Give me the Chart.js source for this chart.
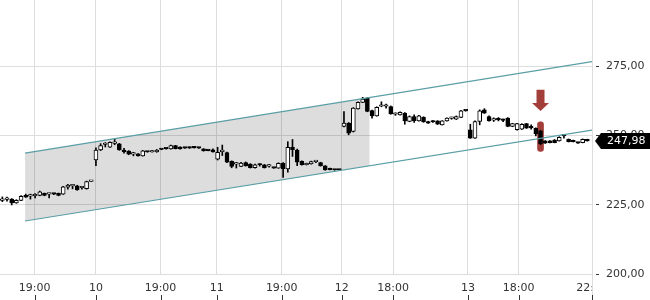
<!DOCTYPE html>
<html>
<head>
<meta charset="utf-8">
<script src="https://cdn.jsdelivr.net/npm/chart.js"></script>
<style>
  html, body { margin: 0; padding: 0; background: #fff; }
  #wrap { width: 650px; height: 300px; position: relative; }
</style>
</head>
<body>
<div id="wrap"><canvas id="chart"></canvas></div>
<script>
// candles, one per slot (index = slot number on the time axis)
var opens  = [226.5,226.9,227.0,225.6,226.5,228.4,228.1,228.2,228.3,229.1,228.8,228.8,229.1,228.8,231.3,231.8,231.8,231.1,230.8,233.4,
              241.1,244.7,246.7,245.7,247.1,246.9,244.7,244.3,243.2,243.3,242.6,244.0,244.0,244.0,244.9,245.1,245.1,246.3,245.8,245.4,
              245.7,245.5,245.4,245.1,244.5,244.8,241.4,244.1,243.8,240.6,239.6,238.8,240.2,239.6,238.3,239.4,239.4,238.9,238.2,238.2,
              239.9,237.9,245.7,244.7,240.6,239.4,239.7,240.5,240.2,239.0,237.6,237.5,237.5,253.2,254.4,251.4,259.5,261.9,263.4,258.9,
              257.0,260.5,260.5,260.4,257.6,257.4,258.0,255.0,256.8,255.2,256.5,255.0,254.8,255.2,253.8,255.2,256.1,255.8,256.5,258.8,
              252.0,249.0,255.0,259.2,256.8,255.5,255.6,255.4,256.2,253.2,252.0,252.2,254.2,253.2,252.5,251.6,248.0,248.0,248.3,248.0,
              249.8,248.6,247.8,247.2,247.4,248.5];
var highs  = [227.8,227.7,227.2,226.8,228.3,228.8,228.8,229.0,229.9,229.2,229.0,229.0,229.2,231.6,232.3,232.3,232.0,231.6,233.5,233.5,
              245.5,247.0,247.4,247.7,248.6,247.1,245.3,244.5,243.9,243.4,244.6,244.1,244.5,244.9,245.0,245.2,246.5,246.4,245.9,245.5,
              245.8,245.9,245.5,245.2,244.6,245.1,245.7,246.5,244.0,240.8,240.2,240.3,240.4,239.8,239.6,239.8,239.5,239.5,238.3,240.1,
              240.2,247.7,248.5,245.0,240.8,240.0,240.7,241.0,240.3,239.1,238.2,237.6,237.6,258.6,254.6,260.0,262.1,263.7,263.6,259.1,
              260.3,262.1,261.3,260.6,258.1,258.5,258.2,257.0,257.4,257.2,256.7,255.1,255.3,255.3,255.3,256.3,256.6,257.0,259.0,258.9,
              254.0,255.2,259.2,259.6,257.0,256.3,256.4,255.9,256.4,254.3,254.3,254.2,254.3,253.8,252.7,251.8,248.1,248.1,248.5,249.5,
              250.3,248.7,248.3,247.3,248.7,248.6];
var lows   = [226.1,226.3,224.9,225.5,226.4,227.6,227.0,227.4,228.2,228.2,227.4,228.6,228.2,228.7,230.6,230.7,230.2,230.6,230.6,233.4,
              239.1,244.5,245.8,245.6,246.6,244.6,243.6,243.0,242.6,242.5,242.5,243.9,243.9,243.9,244.8,245.0,245.0,245.1,245.0,245.3,
              245.3,245.4,245.3,244.3,244.4,243.9,241.1,242.7,240.1,238.3,238.2,238.7,238.9,238.2,238.2,238.9,238.2,238.5,238.1,238.1,
              234.8,236.7,242.4,239.1,239.2,239.3,239.6,240.1,238.9,237.4,237.5,237.4,237.4,253.0,250.2,251.2,259.4,261.8,258.5,256.2,
              256.9,260.3,259.8,257.6,257.2,257.3,254.0,254.9,254.7,255.1,254.7,254.3,254.7,253.9,253.7,255.1,255.8,255.7,256.4,258.7,
              248.9,248.9,253.8,257.9,255.1,255.0,255.2,254.9,253.1,253.1,251.9,252.1,252.5,252.2,249.8,246.6,247.1,247.3,247.3,247.9,
              249.0,247.6,247.6,247.1,247.3,247.9];
var closes = [227.1,227.1,225.6,226.6,228.0,227.7,228.2,228.3,229.6,228.3,228.9,228.8,228.3,231.4,232.1,231.9,230.3,231.3,233.3,233.5,
              244.7,246.3,246.8,247.5,247.2,244.7,244.0,243.2,243.3,242.6,244.4,244.0,244.1,244.7,244.9,245.1,246.3,245.2,245.1,245.4,
              245.4,245.5,245.4,244.4,244.5,244.0,243.9,244.2,240.3,238.8,239.7,240.0,239.0,238.3,239.4,239.3,238.3,239.0,238.2,239.9,
              238.0,245.7,244.8,240.3,239.4,239.5,240.5,240.6,239.0,237.5,237.6,237.5,237.5,254.4,250.8,259.8,261.9,263.1,258.6,257.0,
              260.1,260.6,260.6,257.7,257.7,258.3,255.2,256.8,255.2,257.0,254.8,254.4,254.8,254.0,255.2,256.2,256.2,256.8,258.8,258.8,
              249.0,255.0,258.8,258.0,255.2,255.6,255.6,255.4,253.2,254.2,254.2,254.0,252.6,252.7,250.5,247.0,247.2,247.4,247.4,249.3,
              249.8,247.7,247.7,247.2,248.6,247.98];

// time axis ticks (slot positions) and their labels
var tickPos    = [6.9, 20, 33.8, 45.8, 59.7, 72.5, 83.5, 99.5, 110.3, 126];
var tickLabels = ['19:00', '10', '19:00', '11', '19:00', '12', '18:00', '13', '18:00', '22:00'];
var yTicks     = [200, 225, 250, 275];

// trend channel (slot position -> price)
var channelX     = [4.85, 126];
var channelUpper = [243.6, 276.6];
var channelLower = [219.1, 251.9];
var shadeX       = [4.85, 78.5];
var shadeUpper   = [243.6, 263.6];
var shadeLower   = [219.1, 239.0];

// marked candle with the red arrow
var markIndex = 115;
var markRange = [244.2, 254.9];
var arrowTop  = 266.4;
var arrowTip  = 258.8;

var teal = '#5a9ea6';
var markColor = '#a33f3a';
var gridColor = '#dddddd';
var textColor = '#333333';

Chart.defaults.font.family = "'DejaVu Sans', sans-serif";
Chart.defaults.font.size = 11;

function pts(xs, ys) {
  return xs.map(function(v, i) { return {x: v, y: ys[i]}; });
}

function noPad(s) {
  s.paddingTop = 0;
  s.paddingBottom = 0;
  s.paddingLeft = 0;
  s.paddingRight = 0;
}

var annotate = {
  id: 'annotate',
  afterDatasetsDraw: function(chart) {
    var ctx = chart.ctx, x = chart.scales.x, y = chart.scales.y;
    var ax = x.getPixelForValue(markIndex);
    var top = y.getPixelForValue(arrowTop);
    var tip = y.getPixelForValue(arrowTip);
    var neck = tip - 8;
    ctx.save();
    ctx.fillStyle = markColor;
    ctx.beginPath();
    ctx.moveTo(ax - 4, top);
    ctx.lineTo(ax + 4, top);
    ctx.lineTo(ax + 4, neck);
    ctx.lineTo(ax + 8.5, neck);
    ctx.lineTo(ax, tip);
    ctx.lineTo(ax - 8.5, neck);
    ctx.lineTo(ax - 4, neck);
    ctx.closePath();
    ctx.fill();
    ctx.restore();
  },
  afterDraw: function(chart) {
    var ctx = chart.ctx, area = chart.chartArea, x = chart.scales.x, y = chart.scales.y;
    var w = chart.width, h = chart.height;
    ctx.save();
    // last time label is cut at the price axis
    ctx.fillStyle = '#fff';
    ctx.fillRect(area.right + 1, area.bottom + 7, w - area.right, h);
    ctx.strokeStyle = gridColor;
    ctx.lineWidth = 1;
    ctx.beginPath();
    ctx.moveTo(Math.round(area.right) + 0.5, 0);
    ctx.lineTo(Math.round(area.right) + 0.5, h);
    ctx.stroke();
    // little tick marks under the time labels
    ctx.strokeStyle = textColor;
    ctx.beginPath();
    x.ticks.forEach(function(t) {
      var px = Math.round(x.getPixelForValue(t.value)) + 0.5;
      ctx.moveTo(px, h - 5);
      ctx.lineTo(px, h);
    });
    ctx.stroke();
    // last price tag
    var last = closes[closes.length - 1];
    var py = Math.round(y.getPixelForValue(last));
    var bx = area.right + 3;
    ctx.fillStyle = '#000';
    ctx.beginPath();
    ctx.moveTo(bx, py);
    ctx.lineTo(bx + 6, py - 8);
    ctx.lineTo(w, py - 8);
    ctx.lineTo(w, py + 8);
    ctx.lineTo(bx + 6, py + 8);
    ctx.closePath();
    ctx.fill();
    ctx.fillStyle = '#fff';
    ctx.font = "11px 'DejaVu Sans'";
    ctx.textBaseline = 'middle';
    ctx.fillText(last.toFixed(2).replace('.', ','), area.right + 15, py + 0.5);
    ctx.restore();
  }
};

var ctx = document.getElementById('chart').getContext('2d');

var myChart = new Chart(ctx, {
  type: 'bar',
  data: {
    datasets: [{
      type: 'line',
      data: pts(shadeX, shadeUpper),
      borderColor: 'rgba(0,0,0,0)',
      pointRadius: 0,
      fill: false,
      order: 6
    }, {
      type: 'line',
      data: pts(shadeX, shadeLower),
      borderColor: 'rgba(0,0,0,0)',
      backgroundColor: 'rgba(0,0,0,0.135)',
      pointRadius: 0,
      fill: '-1',
      order: 5
    }, {
      type: 'line',
      data: pts(channelX, channelUpper),
      borderColor: teal,
      borderWidth: 1.2,
      pointRadius: 0,
      fill: false,
      order: 1
    }, {
      type: 'line',
      data: pts(channelX, channelLower),
      borderColor: teal,
      borderWidth: 1.2,
      pointRadius: 0,
      fill: false,
      order: 1
    }, {
      data: [{x: markIndex, y: markRange}],
      backgroundColor: markColor,
      barThickness: 6,
      borderRadius: 3,
      borderSkipped: false,
      grouped: false,
      order: 4
    }, {
      data: highs.map(function(hv, i) { return {x: i, y: [lows[i], hv]}; }),
      backgroundColor: '#000',
      barThickness: 1,
      borderWidth: 0,
      grouped: false,
      order: 3
    }, {
      data: opens.map(function(o, i) { return {x: i, y: [o, closes[i]]}; }),
      backgroundColor: opens.map(function(o, i) { return closes[i] > o ? '#fff' : '#000'; }),
      borderColor: '#000',
      borderWidth: 1,
      borderSkipped: false,
      barThickness: 4,
      minBarLength: 1.5,
      grouped: false,
      order: 2
    }]
  },
  options: {
    responsive: true,
    maintainAspectRatio: false,
    animation: false,
    events: [],
    layout: { padding: 0, autoPadding: false },
    plugins: {
      legend: { display: false },
      tooltip: { enabled: false }
    },
    scales: {
      x: {
        type: 'linear',
        min: -0.5,
        max: 126,
        offset: false,
        afterBuildTicks: function(s) { s.ticks = tickPos.map(function(v) { return {value: v}; }); },
        afterFit: function(s) { s.height = 26; noPad(s); },
        ticks: {
          autoSkip: false,
          maxRotation: 0,
          color: textColor,
          padding: 8,
          callback: function(v, i) { return tickLabels[i]; }
        },
        grid: { color: gridColor, drawTicks: false, offset: false },
        border: { display: false }
      },
      y: {
        position: 'right',
        min: 200,
        max: 298.8,
        afterBuildTicks: function(s) { s.ticks = yTicks.map(function(v) { return {value: v}; }); },
        afterFit: function(s) { s.width = 58; noPad(s); },
        ticks: {
          color: textColor,
          padding: 7,
          callback: function(v) { return v.toFixed(2).replace('.', ','); }
        },
        grid: { color: gridColor, tickColor: textColor, tickLength: 7, tickBorderDash: [0, 3, 4] },
        border: { color: gridColor }
      }
    }
  },
  plugins: [annotate]
});
</script>
</body>
</html>
